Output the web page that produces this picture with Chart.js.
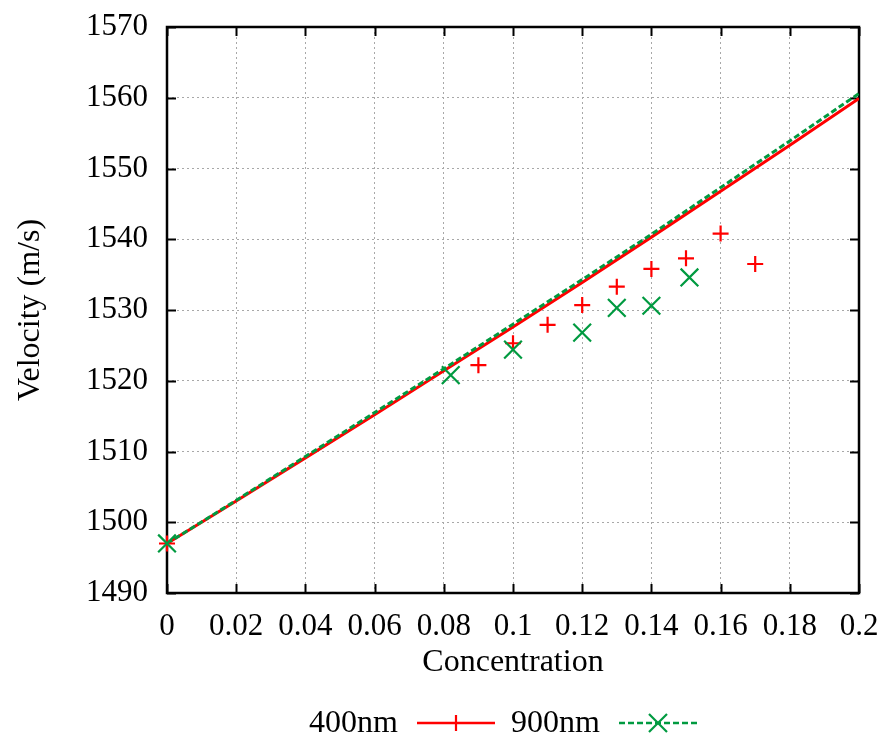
<!DOCTYPE html>
<html>
<head>
<meta charset="utf-8">
<script src="https://cdn.jsdelivr.net/npm/chart.js@4.4.1/dist/chart.umd.min.js"></script>
<style>
  html, body { margin: 0; padding: 0; background: #ffffff; }
  #wrap { width: 888px; height: 738px; position: relative; }
</style>
</head>
<body>
<div id="wrap"><canvas id="c" width="888" height="738"></canvas></div>
<script>
// ---- data ----
const curveX = [0, 0.02, 0.04, 0.06, 0.08, 0.10, 0.12, 0.14, 0.16, 0.18, 0.20];
const curve400 = [1497.0, 1503.0, 1509.1, 1515.2, 1521.4, 1527.6, 1533.9, 1540.3, 1546.8, 1553.3, 1559.9];
const curve900 = [1497.0, 1503.1, 1509.3, 1515.5, 1521.7, 1528.0, 1534.3, 1540.7, 1547.3, 1553.9, 1560.6];

const points400X = [0, 0.09, 0.10, 0.11, 0.12, 0.13, 0.14, 0.15, 0.16, 0.17];
const points400Y = [1497.0, 1522.2, 1525.3, 1527.9, 1530.7, 1533.3, 1535.8, 1537.3, 1540.8, 1536.5];

const points900X = [0, 0.082, 0.10, 0.12, 0.13, 0.14, 0.151];
const points900Y = [1497.0, 1520.8, 1524.4, 1526.8, 1530.3, 1530.6, 1534.6];

const seriesNames = ['400nm', '900nm'];
const xTickLabels = ['0', '0.02', '0.04', '0.06', '0.08', '0.1', '0.12', '0.14', '0.16', '0.18', '0.2'];
const yTickLabels = ['1490', '1500', '1510', '1520', '1530', '1540', '1550', '1560', '1570'];
const xTitle = 'Concentration';
const yTitle = 'Velocity (m/s)';

// ---- styling ----
const RED = '#ff0000';
const GREEN = '#009a40';
const FONT = '"Liberation Serif", "Times New Roman", serif';
const TICKFONT = { family: FONT, size: 31 };
const TITLEFONT = { family: FONT, size: 32 };

const zip = (xs, ys) => xs.map((x, i) => ({ x: x, y: ys[i] }));

// Frame with mirrored inward ticks (gnuplot style)
const framePlugin = {
  id: 'frame',
  beforeDatasetsDraw(chart) {
    const { ctx, chartArea: a, scales } = chart;
    ctx.save();
    ctx.strokeStyle = '#000';
    ctx.lineWidth = 2;
    ctx.setLineDash([]);
    const tl = 9;
    ctx.beginPath();
    scales.y.ticks.forEach(t => {
      const py = Math.round(scales.y.getPixelForValue(t.value)) + 0.5;
      ctx.moveTo(a.left, py); ctx.lineTo(a.left + tl, py);
      ctx.moveTo(a.right, py); ctx.lineTo(a.right - tl, py);
    });
    scales.x.ticks.forEach(t => {
      const px = Math.round(scales.x.getPixelForValue(t.value)) + 0.5;
      ctx.moveTo(px, a.bottom); ctx.lineTo(px, a.bottom - tl);
      ctx.moveTo(px, a.top); ctx.lineTo(px, a.top + tl);
    });
    ctx.stroke();
    ctx.lineWidth = 2.5;
    ctx.strokeRect(a.left, a.top, a.right - a.left, a.bottom - a.top);
    ctx.restore();
  }
};

// Gnuplot-like horizontal key below the plot
const keyPlugin = {
  id: 'key',
  afterDraw(chart) {
    const { ctx } = chart;
    const y = 723;
    const entries = [
      { name: seriesNames[0], textRight: 398, x0: 417, x1: 495, color: RED, dash: [], mark: 'plus' },
      { name: seriesNames[1], textRight: 600, x0: 619, x1: 697, color: GREEN, dash: [6, 3], mark: 'x' }
    ];
    ctx.save();
    entries.forEach(e => {
      ctx.font = '32px ' + FONT;
      ctx.fillStyle = '#000';
      ctx.textAlign = 'right';
      ctx.textBaseline = 'alphabetic';
      ctx.fillText(e.name, e.textRight, 732);
      ctx.strokeStyle = e.color;
      ctx.lineWidth = 2.5;
      ctx.setLineDash(e.dash);
      ctx.beginPath(); ctx.moveTo(e.x0, y); ctx.lineTo(e.x1, y); ctx.stroke();
      ctx.setLineDash([]);
      ctx.lineWidth = 2.2;
      const cx = (e.x0 + e.x1) / 2;
      ctx.beginPath();
      if (e.mark === 'plus') {
        ctx.moveTo(cx - 8, y); ctx.lineTo(cx + 8, y);
        ctx.moveTo(cx, y - 8); ctx.lineTo(cx, y + 8);
      } else {
        ctx.moveTo(cx - 9, y - 9); ctx.lineTo(cx + 9, y + 9);
        ctx.moveTo(cx - 9, y + 9); ctx.lineTo(cx + 9, y - 9);
      }
      ctx.stroke();
    });
    ctx.restore();
  }
};

new Chart(document.getElementById('c'), {
  type: 'scatter',
  data: {
    datasets: [
      {
        label: seriesNames[1] + ' points',
        data: zip(points900X, points900Y),
        showLine: false,
        pointStyle: 'crossRot',
        pointRadius: 12.5,
        pointHoverRadius: 12.5,
        borderColor: GREEN,
        backgroundColor: GREEN,
        pointBorderWidth: 2.2,
        clip: false,
        order: 1
      },
      {
        label: seriesNames[0] + ' points',
        data: zip(points400X, points400Y),
        showLine: false,
        pointStyle: 'cross',
        pointRadius: 8,
        pointHoverRadius: 8,
        borderColor: RED,
        backgroundColor: RED,
        pointBorderWidth: 2.2,
        clip: false,
        order: 2
      },
      {
        label: seriesNames[1],
        data: zip(curveX, curve900),
        showLine: true,
        pointRadius: 0,
        borderColor: GREEN,
        borderWidth: 3,
        borderDash: [6, 3],
        fill: false,
        order: 3
      },
      {
        label: seriesNames[0],
        data: zip(curveX, curve400),
        showLine: true,
        pointRadius: 0,
        borderColor: RED,
        borderWidth: 3,
        fill: false,
        order: 4
      }
    ]
  },
  options: {
    responsive: false,
    animation: false,
    devicePixelRatio: 1,
    layout: { padding: { left: 0, right: 29, top: 27, bottom: 0 } },
    plugins: {
      legend: { display: false },
      tooltip: { enabled: false },
      title: { display: false }
    },
    scales: {
      x: {
        type: 'linear',
        min: 0,
        max: 0.2,
        afterFit(scale) {
          scale.height = 145;
          scale.paddingLeft = 0;
          scale.paddingRight = 0;
        },
        ticks: {
          stepSize: 0.02,
          color: '#000',
          font: TICKFONT,
          padding: 15,
          maxRotation: 0,
          autoSkip: false,
          callback: (v, i) => xTickLabels[i]
        },
        grid: { color: '#a8a8a8', lineWidth: 1, drawTicks: false },
        border: { display: false, dash: [2, 3] },
        title: {
          display: true,
          text: xTitle,
          color: '#000',
          font: TITLEFONT,
          padding: { top: 0, bottom: 56 }
        }
      },
      y: {
        type: 'linear',
        min: 1490,
        max: 1570,
        afterFit(scale) {
          scale.width = 167;
          scale.paddingTop = 0;
          scale.paddingBottom = 0;
        },
        ticks: {
          stepSize: 10,
          color: '#000',
          font: TICKFONT,
          padding: 19,
          autoSkip: false,
          callback: (v, i) => yTickLabels[i]
        },
        grid: { color: '#a8a8a8', lineWidth: 1, drawTicks: false },
        border: { display: false, dash: [2, 3] },
        title: {
          display: true,
          text: yTitle,
          color: '#000',
          font: TITLEFONT,
          padding: { top: 11, bottom: 0 }
        }
      }
    }
  },
  plugins: [framePlugin, keyPlugin]
});
</script>
</body>
</html>
